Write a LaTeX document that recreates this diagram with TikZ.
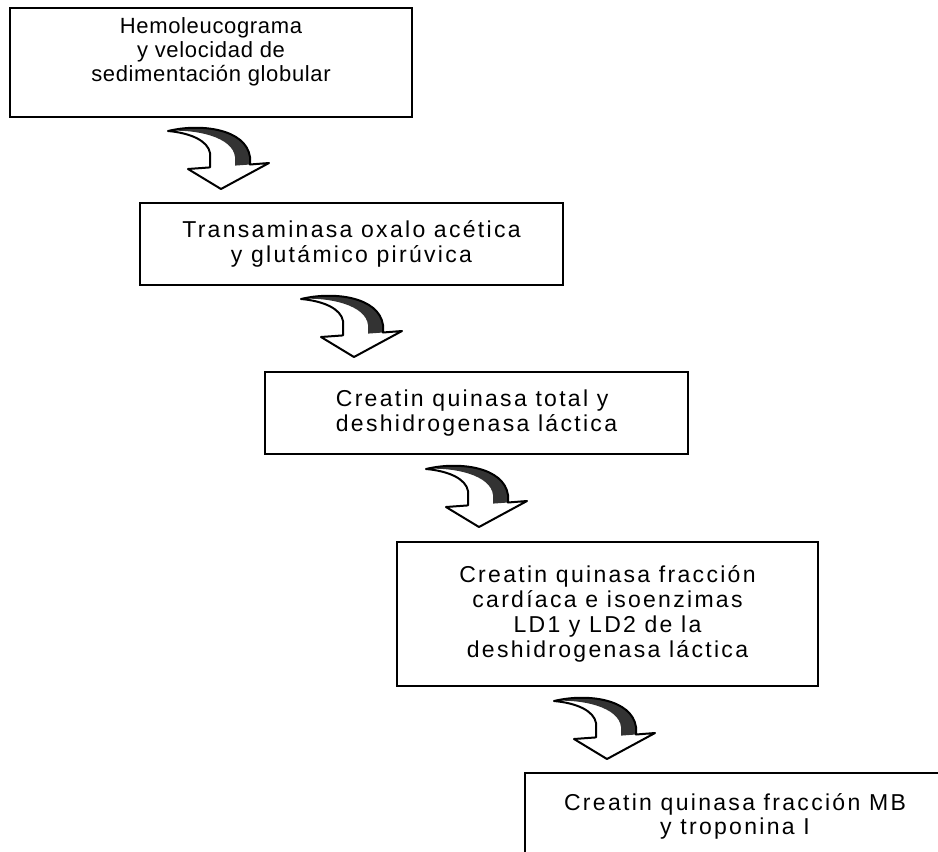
\documentclass[tikz,border=0pt]{standalone}
\usepackage{fontspec}
\setmainfont{Liberation Sans}
\newfontfamily\widefont[LetterSpace=10]{Liberation Sans}
\newfontfamily\narrowfont[LetterSpace=3]{Liberation Sans}
\usetikzlibrary{calc}
\tikzset{
  box/.style={draw=black, line width=1pt, rectangle, inner sep=0pt},
  txt/.style={font=\fontsize{11.5pt}{12.4pt}\selectfont\widefont, align=center},
  txtone/.style={font=\fontsize{11pt}{12pt}\selectfont\narrowfont, align=center, inner sep=0pt},
  arrowline/.style={draw=black, line width=1pt, line join=round},
  curvarrow/.pic={
    \fill[white] (-53,-58) .. controls (-20,-66) and (25,-60) .. (29,-32) -- (29,-24.5) -- (48,-26) -- (0,0) -- (-33,-20) -- (-11,-21.6) -- (-11,-36) .. controls (-13,-48) and (-30,-56) .. (-53,-58) -- cycle;
    \fill[black!80] (-53,-58) .. controls (-20,-66) and (25,-60) .. (29,-32) -- (29,-24.5) -- (14,-23.4) -- (14,-32) .. controls (12,-52) and (-25,-60) .. (-53,-58) -- cycle;
    \draw[arrowline] (-53,-58) .. controls (-20,-66) and (25,-60) .. (29,-32) -- (29,-24.5) -- (48,-26) -- (0,0) -- (-33,-20) -- (-11,-21.6) -- (-11,-36) .. controls (-13,-48) and (-30,-56) .. (-53,-58) -- cycle;
  }
}
\begin{document}
\begin{tikzpicture}[x=0.5pt, y=-0.5pt]
\useasboundingbox (0,0) rectangle (938,852);
\clip (0,0) rectangle (938,852);
\fill[white] (0,0) rectangle (938,852);

\node[box, minimum width=201pt, minimum height=54.5pt] (b1) at (211,62.5) {};
\node[txtone] (t1) at (211,52) {Hemoleucograma\\y velocidad de\\sedimentación globular};

\node[box, txt, minimum width=211.5pt, minimum height=41pt] (b2) at (351.5,244)
  {Transaminasa oxalo acética\\y glutámico pirúvica};

\node[box, txt, align=left, minimum width=211.5pt, minimum height=41pt] (b3) at (476.5,413)
  {Creatin quinasa total y\\deshidrogenasa láctica};

\node[box, txt, minimum width=210.5pt, minimum height=72pt] (b4) at (607.5,614)
  {Creatin quinasa fracción\\cardíaca e isoenzimas\\LD1 y LD2 de la\\deshidrogenasa láctica};

\node[box, txt, minimum width=210pt, minimum height=43.5pt] (b5) at (735,816.5)
  {Creatin quinasa fracción MB\\y troponina I};

\pic at ($(b2.north west)+(82,-13)$) {curvarrow};
\pic at ($(b3.north west)+(90,-14)$) {curvarrow};
\pic at ($(b4.north west)+(83,-14)$) {curvarrow};
\pic at ($(b5.north west)+(83,-13)$) {curvarrow};
\end{tikzpicture}
\end{document}
